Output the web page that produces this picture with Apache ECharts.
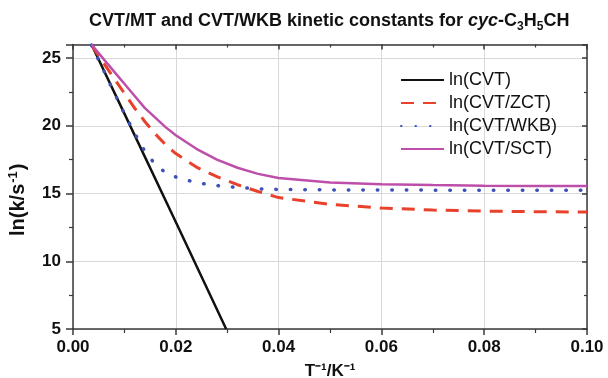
<!DOCTYPE html>
<html>
<head>
<meta charset="utf-8">
<script src="https://cdn.jsdelivr.net/npm/echarts@6/dist/echarts.min.js"></script>
<style>
html,body{margin:0;padding:0;background:#fff;}
#chart{width:608px;height:378px;}
</style>
</head>
<body>
<div id="chart"></div>
<script>
// ---- data ----
var xShared = [0.0036, 0.006, 0.008, 0.010, 0.012, 0.014, 0.016, 0.018, 0.020, 0.024, 0.028, 0.032, 0.036, 0.040, 0.050, 0.060, 0.070, 0.080, 0.090, 0.100];
var xCVT = [0.0036, 0.010, 0.020, 0.0298];
var yCVT = [26.0, 20.9, 12.9, 5.0];
var yZCT = [25.95, 24.6, 23.5, 22.4, 21.3, 20.3, 19.4, 18.6, 17.95, 16.95, 16.25, 15.65, 15.15, 14.7, 14.2, 13.93, 13.78, 13.7, 13.66, 13.63];
var yWKB = [25.95, 24.05, 22.45, 20.9, 19.45, 18.1, 17.15, 16.55, 16.22, 15.8, 15.58, 15.45, 15.35, 15.3, 15.27, 15.26, 15.25, 15.25, 15.25, 15.25];
var ySCT = [26.0, 24.9, 24.0, 23.1, 22.2, 21.3, 20.6, 19.9, 19.3, 18.3, 17.5, 16.9, 16.45, 16.15, 15.82, 15.69, 15.62, 15.58, 15.56, 15.55];
var seriesNames = ['ln(CVT)', 'ln(CVT/ZCT)', 'ln(CVT/WKB)', 'ln(CVT/SCT)'];
var xTicks = [0, 0.02, 0.04, 0.06, 0.08, 0.10];
var yTicks = [5, 10, 15, 20, 25];

function pairs(xs, ys) { return xs.map(function (x, i) { return [x, ys[i]]; }); }

var FONT = 'Liberation Sans, Arial, sans-serif';
var AX = '#3a3a3a';

var chart = echarts.init(document.getElementById('chart'), null, {renderer: 'canvas'});
var option = {
  backgroundColor: '#ffffff',
  animation: false,
  title: {
    left: 89, top: 10, padding: 0,
    text: '{b|CVT/MT and CVT/WKB kinetic constants for }{i|cyc}{b|-C}{s|3}{b|H}{s|5}{b|CH}',
    textStyle: {
      rich: {
        b: {fontFamily: FONT, fontSize: 18, fontWeight: 'bold', color: '#111', lineHeight: 22},
        i: {fontFamily: FONT, fontSize: 18, fontWeight: 'bold', fontStyle: 'italic', color: '#111', lineHeight: 22},
        s: {fontFamily: FONT, fontSize: 12, fontWeight: 'bold', color: '#111', lineHeight: 12, padding: [12, 0, 0, 0]}
      }
    }
  },
  legend: {
    left: 400, top: 71, orient: 'vertical', padding: 0,
    itemWidth: 43, itemHeight: 14, itemGap: 5,
    data: seriesNames,
    itemStyle: {opacity: 0},
    textStyle: {fontFamily: FONT, fontSize: 18, color: '#111', lineHeight: 18}
  },
  grid: {left: 73, right: 21, top: 44.5, bottom: 49, containLabel: false, outerBoundsMode: 'none'},
  xAxis: [{
    type: 'value', position: 'bottom', min: 0, max: 0.1, interval: 0.02,
    name: 'T\u207B\u00B9/K\u207B\u00B9', nameLocation: 'middle', nameGap: 34,
    nameTextStyle: {fontFamily: FONT, fontSize: 17, fontWeight: 'bold', color: '#111'},
    axisLine: {show: true, onZero: false, lineStyle: {color: AX, width: 1.5}},
    axisTick: {show: true, inside: false, length: 6, lineStyle: {color: AX, width: 1.5}},
    minorTick: {show: true, splitNumber: 2, length: 4, lineStyle: {color: AX, width: 1.2}},
    axisLabel: {show: true, margin: 10, fontFamily: FONT, fontSize: 17, fontWeight: 'bold', color: '#111',
      formatter: function (v) { return v.toFixed(2); }},
    splitLine: {show: true, lineStyle: {color: '#d9d9d9', width: 1}}
  }, {
    type: 'value', position: 'top', min: 0, max: 0.1, interval: 0.02,
    axisLine: {show: true, onZero: false, lineStyle: {color: AX, width: 1.5}},
    axisTick: {show: true, inside: true, length: 5, lineStyle: {color: AX, width: 1.5}},
    minorTick: {show: true, splitNumber: 2, length: 3, lineStyle: {color: AX, width: 1.2}},
    axisLabel: {show: false},
    splitLine: {show: false}
  }],
  yAxis: [{
    type: 'value', position: 'left', min: 5, max: 26, interval: 5,
    name: '{a|ln(k/s}{p|-1}{a|)}', nameLocation: 'middle', nameGap: 44,
    nameTextStyle: {
      padding: [0, 26, 0, 0],
      rich: {
        a: {fontFamily: FONT, fontSize: 20, fontWeight: 'bold', color: '#111', lineHeight: 22},
        p: {fontFamily: FONT, fontSize: 13, fontWeight: 'bold', color: '#111', lineHeight: 13, padding: [0, 1, 10, 1]}
      }
    },
    axisLine: {show: true, onZero: false, lineStyle: {color: AX, width: 1.5}},
    axisTick: {show: true, inside: false, length: 7, lineStyle: {color: AX, width: 1.5}},
    minorTick: {show: true, splitNumber: 2, length: 4, lineStyle: {color: AX, width: 1.2}},
    axisLabel: {show: true, margin: 12, showMaxLabel: false, fontFamily: FONT, fontSize: 17, fontWeight: 'bold', color: '#111'},
    splitLine: {show: true, lineStyle: {color: '#d9d9d9', width: 1}}
  }, {
    type: 'value', position: 'right', min: 5, max: 26, interval: 5,
    axisLine: {show: true, onZero: false, lineStyle: {color: AX, width: 1.5}},
    axisTick: {show: true, inside: true, length: 5, lineStyle: {color: AX, width: 1.5}},
    minorTick: {show: true, splitNumber: 2, length: 3, lineStyle: {color: AX, width: 1.2}},
    axisLabel: {show: false},
    splitLine: {show: false}
  }],
  series: [{
    name: seriesNames[0], type: 'line', xAxisIndex: 0, yAxisIndex: 0,
    data: pairs(xCVT, yCVT), symbol: 'none', smooth: false, clip: true,
    lineStyle: {color: '#111111', width: 2.5}, itemStyle: {color: '#111111'}
  }, {
    name: seriesNames[1], type: 'line', xAxisIndex: 0, yAxisIndex: 0,
    data: pairs(xShared, yZCT), symbol: 'none', smooth: false,
    lineStyle: {color: '#e8412c', width: 3, type: [13, 9]}, itemStyle: {color: '#e8412c'}
  }, {
    name: seriesNames[2], type: 'line', xAxisIndex: 0, yAxisIndex: 0,
    data: pairs(xShared, yWKB), symbol: 'none', smooth: false,
    lineStyle: {color: '#3d4fb8', width: 3.5, type: [0.5, 14], cap: 'round'}, itemStyle: {color: '#3d4fb8'}
  }, {
    name: seriesNames[3], type: 'line', xAxisIndex: 0, yAxisIndex: 0,
    data: pairs(xShared, ySCT), symbol: 'none', smooth: false,
    lineStyle: {color: '#bd4fab', width: 2.5}, itemStyle: {color: '#bd4fab'}
  }]
};
chart.setOption(option);
</script>
</body>
</html>
